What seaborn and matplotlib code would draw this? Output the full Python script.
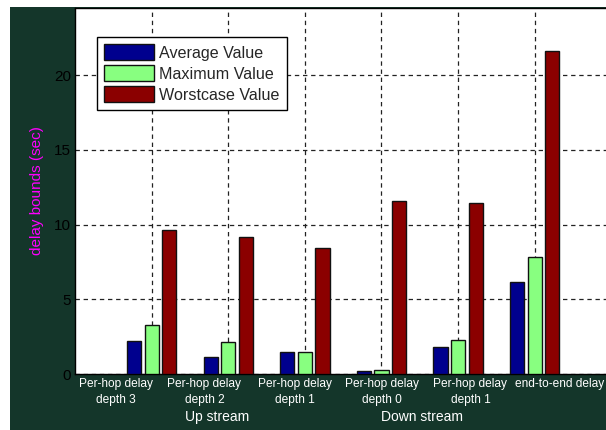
import matplotlib
matplotlib.use("Agg")
import matplotlib.pyplot as plt
import seaborn as sns
import pandas as pd
from matplotlib.patches import Rectangle

categories = ["Per-hop delay\ndepth 3", "Per-hop delay\ndepth 2", "Per-hop delay\ndepth 1",
              "Per-hop delay\ndepth 0", "Per-hop delay\ndepth 1 ", "end-to-end delay"]
average_value = [2.2, 1.14, 1.47, 0.22, 1.8, 6.18]
maximum_value = [3.3, 2.14, 1.47, 0.29, 2.3, 7.81]
worstcase_value = [9.64, 9.15, 8.41, 11.56, 11.45, 21.6]
series_names = ["Average Value", "Maximum Value", "Worstcase Value"]
group_labels = ["Up stream", "Down stream"]

rows = []
for name, vals in zip(series_names, [average_value, maximum_value, worstcase_value]):
    for c, v in zip(categories, vals):
        rows.append({"cat": c, "series": name, "value": v})
df = pd.DataFrame(rows)

sns.set_style("white")
plt.rcParams['font.family'] = ['Liberation Sans', 'DejaVu Sans']

W, H = 606, 430
fig = plt.figure(figsize=(W / 100, H / 100), dpi=100)
fig.patch.set_facecolor("white")
bg = "#14362a"
fig.patches.append(Rectangle((10 / W, 0), 1 - 10 / W, 1 - 7 / H, transform=fig.transFigure,
                             facecolor=bg, edgecolor="none", zorder=-10))

ax = fig.add_axes([75 / W, (H - 374) / H, (606 - 75) / W, (374 - 8) / H])
palette = {"Average Value": "#00008e", "Maximum Value": "#88ff80", "Worstcase Value": "#8b0000"}
sns.barplot(data=df, x="cat", y="value", hue="series", order=categories, hue_order=series_names,
            palette=palette, width=0.69, gap=0.2, edgecolor="#111111", linewidth=1.0,
            saturation=1, errorbar=None, ax=ax, zorder=3)

ax.set_xlim(-1, 5.93)
ax.set_ylim(0, 24.5)
ax.set_yticks([0, 5, 10, 15, 20])
ax.set_facecolor("white")
ax.grid(True, color="#222222", linestyle=(0, (3.5, 3)), linewidth=0.9, zorder=0)
ax.set_axisbelow(True)
for s in ["top", "left", "bottom"]:
    ax.spines[s].set_color("black")
    ax.spines[s].set_linewidth(1.0)
ax.spines["right"].set_visible(False)
ax.tick_params(axis="y", direction="in", length=4, labelsize=11, labelcolor="black", pad=3)
ax.tick_params(axis="x", direction="in", length=4, labelbottom=False)
ax.set_xlabel("")
ax.set_ylabel("delay bounds (sec)", color="#ff00ff", fontsize=11, labelpad=7)

# category labels (placed as text, shifted from the tick positions as in the original)
label_x = [-0.47, 0.69, 1.87, 3.01, 4.16, 5.33]
xform = ax.get_xaxis_transform()
for xp, lab in zip(label_x, categories):
    ax.text(xp, -0.012, lab.strip(), transform=xform, ha="center", va="top", color="white",
            fontsize=8.6, linespacing=1.45)

group_x = [0.86, 3.53]
for xp, lab in zip(group_x, group_labels):
    ax.text(xp, -0.117, lab, transform=xform, ha="center", va="center", color="white",
            fontsize=10)

handles, labels = ax.get_legend_handles_labels()
ax.legend(handles, labels, loc="upper left", bbox_to_anchor=(97 / W, 1 - 37 / H),
          bbox_transform=fig.transFigure, fontsize=11.6, frameon=True, fancybox=False,
          edgecolor="black", framealpha=1, handlelength=3.1, handleheight=1.15,
          labelspacing=0.28, handletextpad=0.32, borderpad=0.45, borderaxespad=0)
ax.get_legend().get_frame().set_linewidth(1.0)

fig.savefig("out.png", dpi=100, facecolor=fig.get_facecolor())
